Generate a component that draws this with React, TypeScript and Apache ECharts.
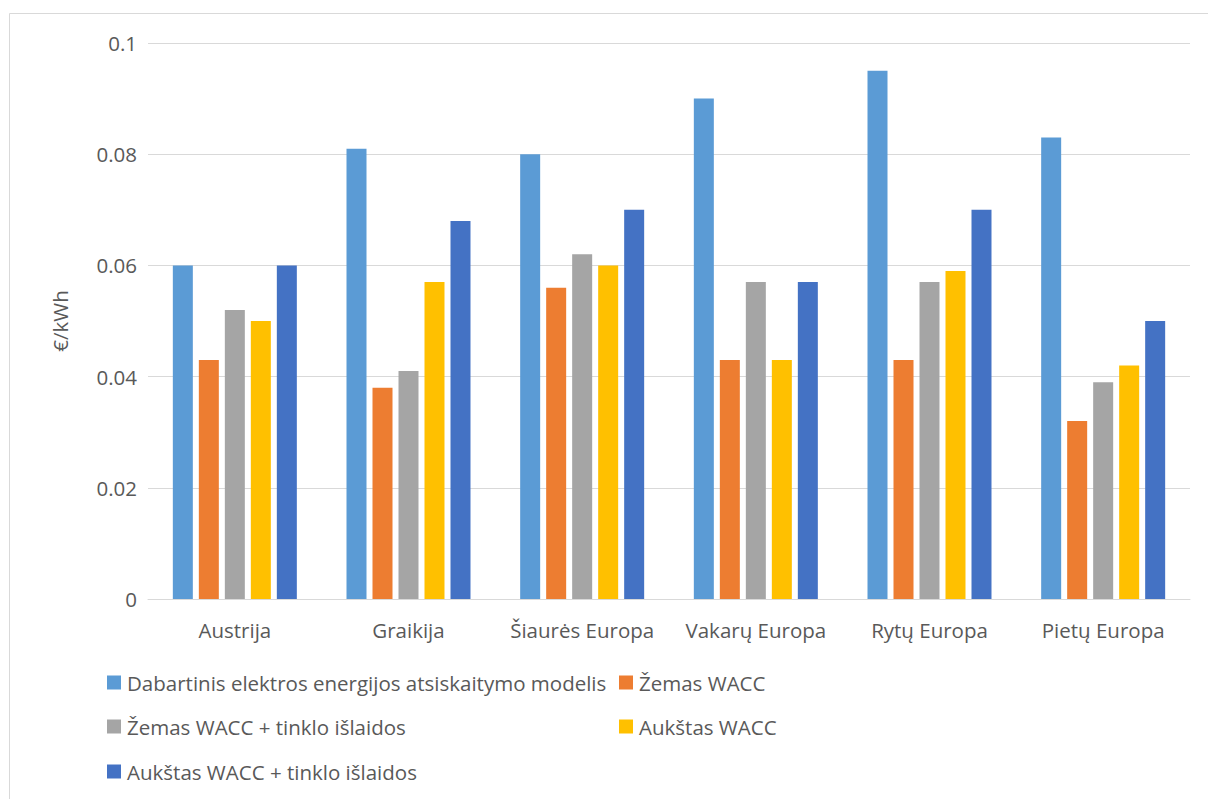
import React, { useEffect, useRef } from "react";
import * as echarts from "echarts";

const categories = ["Austrija", "Graikija", "Šiaurės Europa", "Vakarų Europa", "Rytų Europa", "Pietų Europa"];
const seriesNames = [
  "Dabartinis elektros energijos atsiskaitymo modelis",
  "Žemas WACC",
  "Žemas WACC + tinklo išlaidos",
  "Aukštas WACC",
  "Aukštas WACC + tinklo išlaidos",
];
const current = [0.06, 0.081, 0.08, 0.09, 0.095, 0.083];
const lowWacc = [0.043, 0.038, 0.056, 0.043, 0.043, 0.032];
const lowWaccGrid = [0.052, 0.041, 0.062, 0.057, 0.057, 0.039];
const highWacc = [0.05, 0.057, 0.06, 0.043, 0.059, 0.042];
const highWaccGrid = [0.06, 0.068, 0.07, 0.057, 0.07, 0.05];
const colors = ["#5B9BD5", "#ED7D31", "#A5A5A5", "#FFC000", "#4472C4"];
const yTicks = [0, 0.02, 0.04, 0.06, 0.08, 0.1];

const FONT = "'Open Sans', 'Noto Sans', sans-serif";
const TEXT = "#595959";
const SIZE = 20.5;

export default function App() {
  const ref = useRef<HTMLDivElement>(null);
  useEffect(() => {
    if (!ref.current) return;
    const chart = echarts.init(ref.current, null, { renderer: "svg" });
    const values = [current, lowWacc, lowWaccGrid, highWacc, highWaccGrid];
    // legend laid out in two columns, three rows
    const legendPos = [
      { left: 107, top: 672 },
      { left: 619, top: 672 },
      { left: 107, top: 716 },
      { left: 619, top: 716 },
      { left: 107, top: 761 },
    ];
    chart.setOption({
      animation: false,
      color: colors,
      textStyle: { fontFamily: FONT },
      graphic: [
        {
          type: "rect",
          shape: { x: 9.5, y: 13.5, width: 1220, height: 820 },
          style: { fill: "none", stroke: "#D9D9D9", lineWidth: 1 },
          silent: true,
        },
      ],
      grid: { left: 148, right: 18, top: 43, bottom: 200 },
      legend: seriesNames.map((name, i) => ({
        data: [name],
        left: legendPos[i].left,
        top: legendPos[i].top,
        padding: 0,
        icon: "rect",
        itemWidth: 14,
        itemHeight: 14,
        itemGap: 0,
        textStyle: { color: TEXT, fontSize: SIZE, fontFamily: FONT, padding: [0, 0, 0, 1] },
      })),
      xAxis: {
        type: "category",
        data: categories,
        axisLine: { lineStyle: { color: "#D9D9D9", width: 1 } },
        axisTick: { show: false },
        axisLabel: { color: TEXT, fontSize: SIZE, margin: 20, fontFamily: FONT, interval: 0 },
      },
      yAxis: {
        type: "value",
        min: 0,
        max: 0.1,
        interval: 0.02,
        name: "€/kWh",
        nameLocation: "middle",
        nameGap: 78,
        nameTextStyle: { color: TEXT, fontSize: SIZE, fontFamily: FONT },
        axisLabel: {
          color: TEXT,
          fontSize: SIZE,
          margin: 11,
          fontFamily: FONT,
          formatter: (v: number) => {
            const t = yTicks.find((x) => Math.abs(x - v) < 1e-9);
            return String(t !== undefined ? Number(t.toFixed(2)) : v);
          },
        },
        splitLine: { lineStyle: { color: "#D9D9D9", width: 1 } },
        axisLine: { show: false },
        axisTick: { show: false },
      },
      series: seriesNames.map((name, i) => ({
        name,
        type: "bar",
        data: values[i],
        barGap: "30%",
        barCategoryGap: "28.6%",
      })),
    });
    return () => chart.dispose();
  }, []);
  return (
    <div
      ref={ref}
      style={{ position: "absolute", left: 0, top: 0, width: 1208, height: 799, background: "#fff" }}
    />
  );
}
